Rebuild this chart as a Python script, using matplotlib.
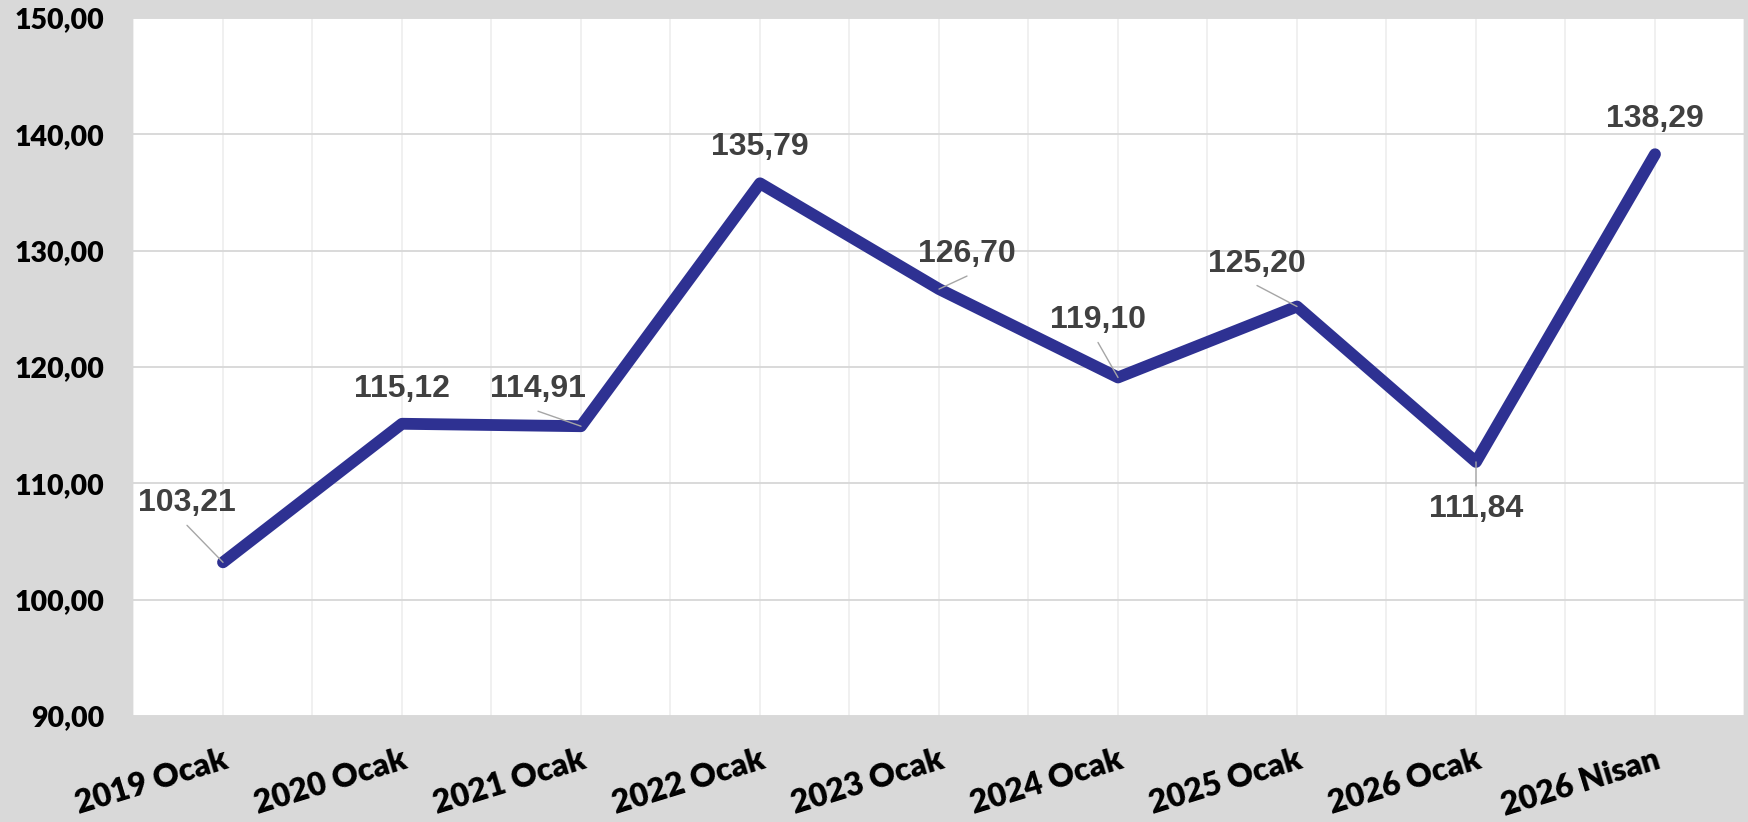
import matplotlib
matplotlib.use("Agg")
import matplotlib.pyplot as plt
from matplotlib.ticker import FuncFormatter, FixedLocator
import numpy as np

# ---- data ----
categories = ["2019 Ocak", "2020 Ocak", "2021 Ocak", "2022 Ocak", "2023 Ocak",
              "2024 Ocak", "2025 Ocak", "2026 Ocak", "2026 Nisan"]
values = [103.21, 115.12, 114.91, 135.79, 126.70, 119.10, 125.20, 111.84, 138.29]
y_ticks = [90, 100, 110, 120, 130, 140, 150]

# ---- label placement (pixel offsets from point, y up) and leader flags ----
label_offsets_px = [(-36, 59), (0, 35), (-43, 37), (0, 36), (28, 35),
                    (-20, 57), (-40, 43), (0, -47), (0, 35)]
label_leaders = [True, False, True, False, True, True, True, True, False]

DPI = 100
W, H = 1749, 822
fig = plt.figure(figsize=(W / DPI, H / DPI), dpi=DPI, facecolor="#D9D9D9")
left, right, top, bottom = 133.5, 1744.5, 18, 716
ax = fig.add_axes([left / W, (H - bottom) / H, (right - left) / W, (bottom - top) / H])
ax.set_facecolor("white")

x = np.arange(len(categories))
ax.plot(x, values, color="#2E3192", lw=8.5, solid_capstyle="round",
        solid_joinstyle="round", zorder=3)

ax.set_xlim(-0.5, len(categories) - 0.5)
ax.set_ylim(y_ticks[0], y_ticks[-1])
ax.set_yticks(y_ticks)
ax.yaxis.set_major_formatter(FuncFormatter(lambda v, p: f"{v:.2f}".replace(".", ",")))
ax.set_xticks(x)
ax.set_xticklabels(categories)
ax.xaxis.set_minor_locator(FixedLocator(np.arange(-0.5, len(categories), 1.0)))

ax.grid(axis="y", color="#D9D9D9", lw=1.4, zorder=0)
ax.grid(axis="x", which="both", color="#EDEDED", lw=1.2, zorder=0)
ax.set_axisbelow(True)
for s in ax.spines.values():
    s.set_visible(False)

ax.tick_params(axis="both", which="both", length=0)
ax.tick_params(axis="y", pad=21)
ax.tick_params(axis="x", pad=21)
for lab in ax.get_yticklabels():
    lab.set_fontfamily("Lato")
    lab.set_fontweight("heavy")
    lab.set_fontsize(20.5)
    lab.set_color("black")
for lab in ax.get_xticklabels():
    lab.set_fontfamily("Lato")
    lab.set_fontweight("heavy")
    lab.set_fontsize(23)
    lab.set_color("black")
    lab.set_rotation(17)
    lab.set_ha("right")
    lab.set_va("top")
    lab.set_rotation_mode("anchor")

px2pt = 72.0 / DPI
for i, (v, (dx, dy), lead) in enumerate(zip(values, label_offsets_px, label_leaders)):
    txt = f"{v:.2f}".replace(".", ",")
    ax.annotate(txt, xy=(i, v), xytext=(dx * px2pt, dy * px2pt), textcoords="offset points",
                ha="center", va="center", fontsize=23, fontweight="bold",
                family="Liberation Sans", color="#404040", zorder=5)
    if lead:
        ly = dy - 22 if dy > 0 else dy + 23
        ax.annotate("", xy=(i, v), xytext=(dx * px2pt, ly * px2pt), textcoords="offset points",
                    arrowprops=dict(arrowstyle="-", color="#A6A6A6", lw=1.0,
                                    shrinkA=0, shrinkB=0), zorder=4)

fig.savefig("out.png", dpi=DPI, facecolor=fig.get_facecolor())
